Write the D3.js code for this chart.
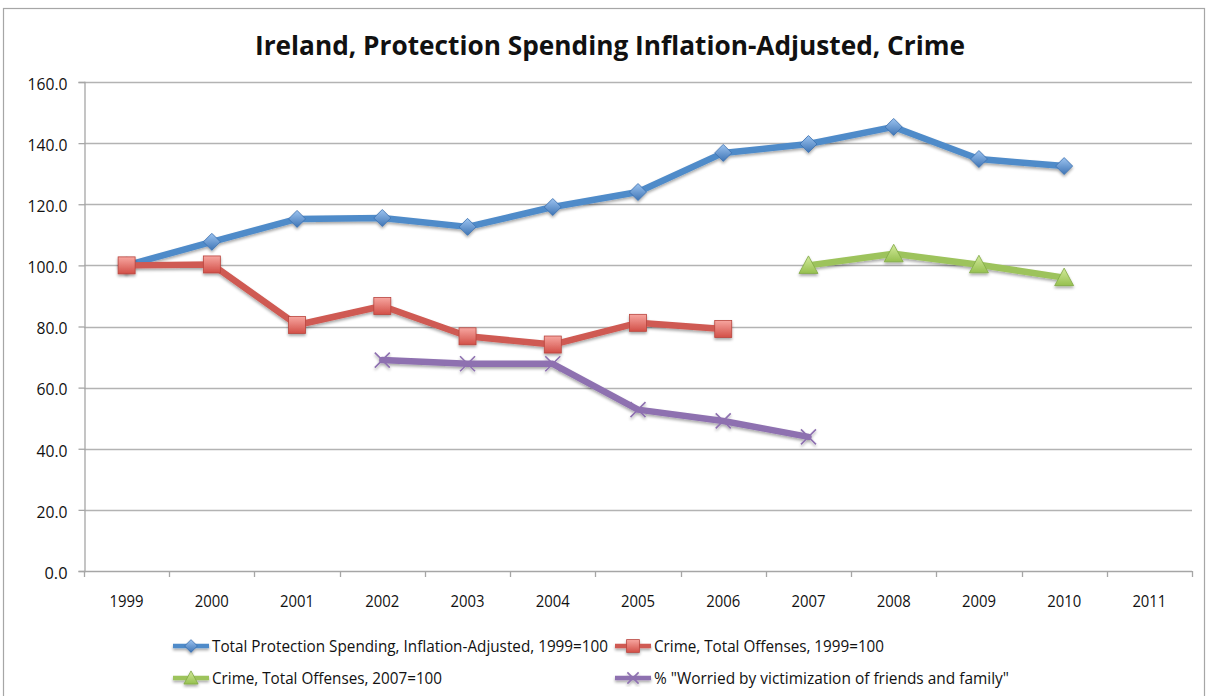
<!DOCTYPE html>
<html>
<head>
<meta charset="utf-8">
<script src="https://cdn.jsdelivr.net/npm/d3@7"></script>
<style>
  html, body { margin: 0; padding: 0; background: #fff; }
  svg { display: block; font-family: "Open Sans", "Liberation Sans", sans-serif; }
</style>
</head>
<body>
<svg id="chart" width="1208" height="696"></svg>
<script>
// Years on the category axis
const years = ["1999","2000","2001","2002","2003","2004","2005","2006","2007","2008","2009","2010","2011"];
// Y-axis tick values
const yTicks = [0, 20, 40, 60, 80, 100, 120, 140, 160];

// Series values (null = no data for that year)
const spending = [100, 107.7, 115.2, 115.5, 112.6, 119.1, 124.0, 136.8, 139.7, 145.3, 134.8, 132.5, null];
const crime1999 = [100, 100.3, 80.5, 86.7, 76.8, 74.1, 81.2, 79.2, null, null, null, null, null];
const crime2007 = [null, null, null, null, null, null, null, null, 100, 103.8, 100.2, 96.0, null];
const worried = [null, null, null, 69.0, 67.8, 67.8, 52.8, 49.1, 43.9, null, null, null, null];

const seriesNames = [
  "Total Protection Spending, Inflation-Adjusted, 1999=100",
  "Crime, Total Offenses, 1999=100",
  "Crime, Total Offenses, 2007=100",
  "% \"Worried by victimization of friends and family\""
];

const series = [
  { name: seriesNames[0], values: spending,  line: "#4f8bc9", light: "#9cc3f0", dark: "#3f75b5", stroke: "#3a6fae", marker: "diamond" },
  { name: seriesNames[1], values: crime1999, line: "#cf5a52", light: "#f7a6a0", dark: "#d24f47", stroke: "#b8453e", marker: "square" },
  { name: seriesNames[2], values: crime2007, line: "#9dc35c", light: "#d3ea9c", dark: "#96c04f", stroke: "#80a844", marker: "triangle" },
  { name: seriesNames[3], values: worried,   line: "#8e71b0", light: "#8e71b0", dark: "#8e71b0", stroke: "#8e71b0", marker: "cross" }
];

const svg = d3.select("#chart");
const defs = svg.append("defs");

// Soft drop shadow used under lines and markers
const shadow = defs.append("filter").attr("id", "shadow")
  .attr("x", "-30%").attr("y", "-30%").attr("width", "160%").attr("height", "160%");
shadow.append("feGaussianBlur").attr("in", "SourceAlpha").attr("stdDeviation", 1.6).attr("result", "b");
shadow.append("feOffset").attr("dx", 0).attr("dy", 2).attr("result", "o");
shadow.append("feComponentTransfer").append("feFuncA").attr("type", "linear").attr("slope", 0.35);
const merge = shadow.append("feMerge");
merge.append("feMergeNode");
merge.append("feMergeNode").attr("in", "SourceGraphic");

series.forEach((s, i) => {
  const g = defs.append("linearGradient").attr("id", "grad" + i)
    .attr("x1", 0).attr("y1", 0).attr("x2", 0).attr("y2", 1);
  g.append("stop").attr("offset", "0%").attr("stop-color", s.light);
  g.append("stop").attr("offset", "100%").attr("stop-color", s.dark);
});

// Outer chart frame
svg.append("rect")
  .attr("x", 3.5).attr("y", 8.5).attr("width", 1201).attr("height", 700)
  .attr("fill", "#fff").attr("stroke", "#a6a6a6").attr("stroke-width", 1.2);

// Title
svg.append("text")
  .attr("x", 610).attr("y", 55)
  .attr("text-anchor", "middle")
  .attr("font-size", 27).attr("font-weight", "bold")
  .attr("fill", "#111")
  .attr("textLength", 710).attr("lengthAdjust", "spacingAndGlyphs")
  .text("Ireland, Protection Spending Inflation-Adjusted, Crime");

const plot = { left: 84, right: 1192, top: 82, bottom: 571 };

const x = d3.scaleBand().domain(years).range([plot.left, plot.right]).paddingInner(0).paddingOuter(0);
const y = d3.scaleLinear().domain([0, 160]).range([plot.bottom, plot.top]);
const cx = yr => x(yr) + x.bandwidth() / 2;

// Horizontal gridlines
svg.append("g")
  .selectAll("line")
  .data(yTicks.filter(t => t > 0))
  .join("line")
  .attr("x1", plot.left).attr("x2", plot.right)
  .attr("y1", d => Math.round(y(d)) + 0.5).attr("y2", d => Math.round(y(d)) + 0.5)
  .attr("stroke", "#b3b3b3").attr("stroke-width", 1.3);

// Y axis
const yAxis = svg.append("g")
  .attr("transform", `translate(${plot.left + 0.5},0)`)
  .call(d3.axisLeft(y).tickValues(yTicks).tickSize(6).tickPadding(11).tickFormat(d3.format(".1f")));
yAxis.select(".domain").attr("stroke", "#a6a6a6").attr("stroke-width", 1.3);
yAxis.selectAll(".tick line").attr("stroke", "#a6a6a6").attr("stroke-width", 1.3);
yAxis.selectAll(".tick text").attr("font-size", 15.5).attr("fill", "#111").attr("dy", "0.47em")
  .attr("font-family", "'Open Sans', sans-serif")
  .attr("textLength", 40).attr("lengthAdjust", "spacingAndGlyphs");
yAxis.selectAll(".tick text").filter(d => d < 100)
  .attr("textLength", 31);
yAxis.selectAll(".tick text").filter(d => d === 0)
  .attr("textLength", 23);

// X axis: baseline, boundary ticks, centered year labels
const xAxisG = svg.append("g");
xAxisG.append("line")
  .attr("x1", plot.left).attr("x2", plot.right)
  .attr("y1", plot.bottom + 0.5).attr("y2", plot.bottom + 0.5)
  .attr("stroke", "#a6a6a6").attr("stroke-width", 1.3);
const boundaries = years.map(yr => x(yr)).concat([plot.right]);
xAxisG.selectAll("line.tk").data(boundaries).join("line").attr("class", "tk")
  .attr("x1", d => Math.round(d) + 0.5).attr("x2", d => Math.round(d) + 0.5)
  .attr("y1", plot.bottom).attr("y2", plot.bottom + 6)
  .attr("stroke", "#a6a6a6").attr("stroke-width", 1.3);
xAxisG.selectAll("text").data(years).join("text")
  .attr("x", d => cx(d)).attr("y", plot.bottom + 36)
  .attr("text-anchor", "middle").attr("font-size", 15.5).attr("fill", "#111")
  .attr("textLength", 34).attr("lengthAdjust", "spacingAndGlyphs")
  .text(d => d);

// Marker shapes
function drawMarker(g, s, i, px, py, scale) {
  const k = scale || 1;
  if (s.marker === "diamond") {
    const r = 8.5 * k;
    g.append("path").attr("d", `M${px},${py - r}L${px + r},${py}L${px},${py + r}L${px - r},${py}Z`)
      .attr("fill", `url(#grad${i})`).attr("stroke", s.stroke).attr("stroke-width", 0.8);
  } else if (s.marker === "square") {
    const r = 8.5 * k;
    g.append("rect").attr("x", px - r).attr("y", py - r).attr("width", 2 * r).attr("height", 2 * r)
      .attr("fill", `url(#grad${i})`).attr("stroke", s.stroke).attr("stroke-width", 0.8);
  } else if (s.marker === "triangle") {
    const r = 9.5 * k;
    g.append("path").attr("d", `M${px},${py - r}L${px + r},${py + r * 0.85}L${px - r},${py + r * 0.85}Z`)
      .attr("fill", `url(#grad${i})`).attr("stroke", s.stroke).attr("stroke-width", 0.8);
  } else {
    const r = 7.5 * k;
    g.append("path").attr("d", `M${px - r},${py - r}L${px + r},${py + r}M${px - r},${py + r}L${px + r},${py - r}`)
      .attr("stroke", s.stroke).attr("stroke-width", 1.6).attr("fill", "none");
  }
}

const lineGen = d3.line()
  .defined(d => d.v != null)
  .x(d => cx(d.year))
  .y(d => y(d.v));

series.forEach((s, i) => {
  const pts = years.map((yr, j) => ({ year: yr, v: s.values[j] }));
  const g = svg.append("g").attr("filter", "url(#shadow)");
  g.append("path").datum(pts)
    .attr("d", lineGen)
    .attr("fill", "none").attr("stroke", s.line).attr("stroke-width", 6.5)
    .attr("stroke-linejoin", "round").attr("stroke-linecap", "round");
  pts.filter(d => d.v != null).forEach(d => drawMarker(g, s, i, cx(d.year), y(d.v)));
});

// Legend: two rows, two columns
const legendItems = [
  { s: 0, x: 173, y: 646, w: 396 },
  { s: 1, x: 615, y: 646, w: 230 },
  { s: 2, x: 173, y: 678, w: 230 },
  { s: 3, x: 615, y: 678, w: 355 }
];
legendItems.forEach(it => {
  const s = series[it.s];
  const g = svg.append("g").attr("filter", "url(#shadow)");
  g.append("line").attr("x1", it.x).attr("x2", it.x + 36).attr("y1", it.y).attr("y2", it.y)
    .attr("stroke", s.line).attr("stroke-width", 4.5);
  drawMarker(g, s, it.s, it.x + 18, it.y, 0.75);
  svg.append("text").attr("x", it.x + 39).attr("y", it.y + 6)
    .attr("font-size", 16.5).attr("fill", "#111")
    .attr("textLength", it.w).attr("lengthAdjust", "spacingAndGlyphs")
    .text(s.name);
});
</script>
</body>
</html>
